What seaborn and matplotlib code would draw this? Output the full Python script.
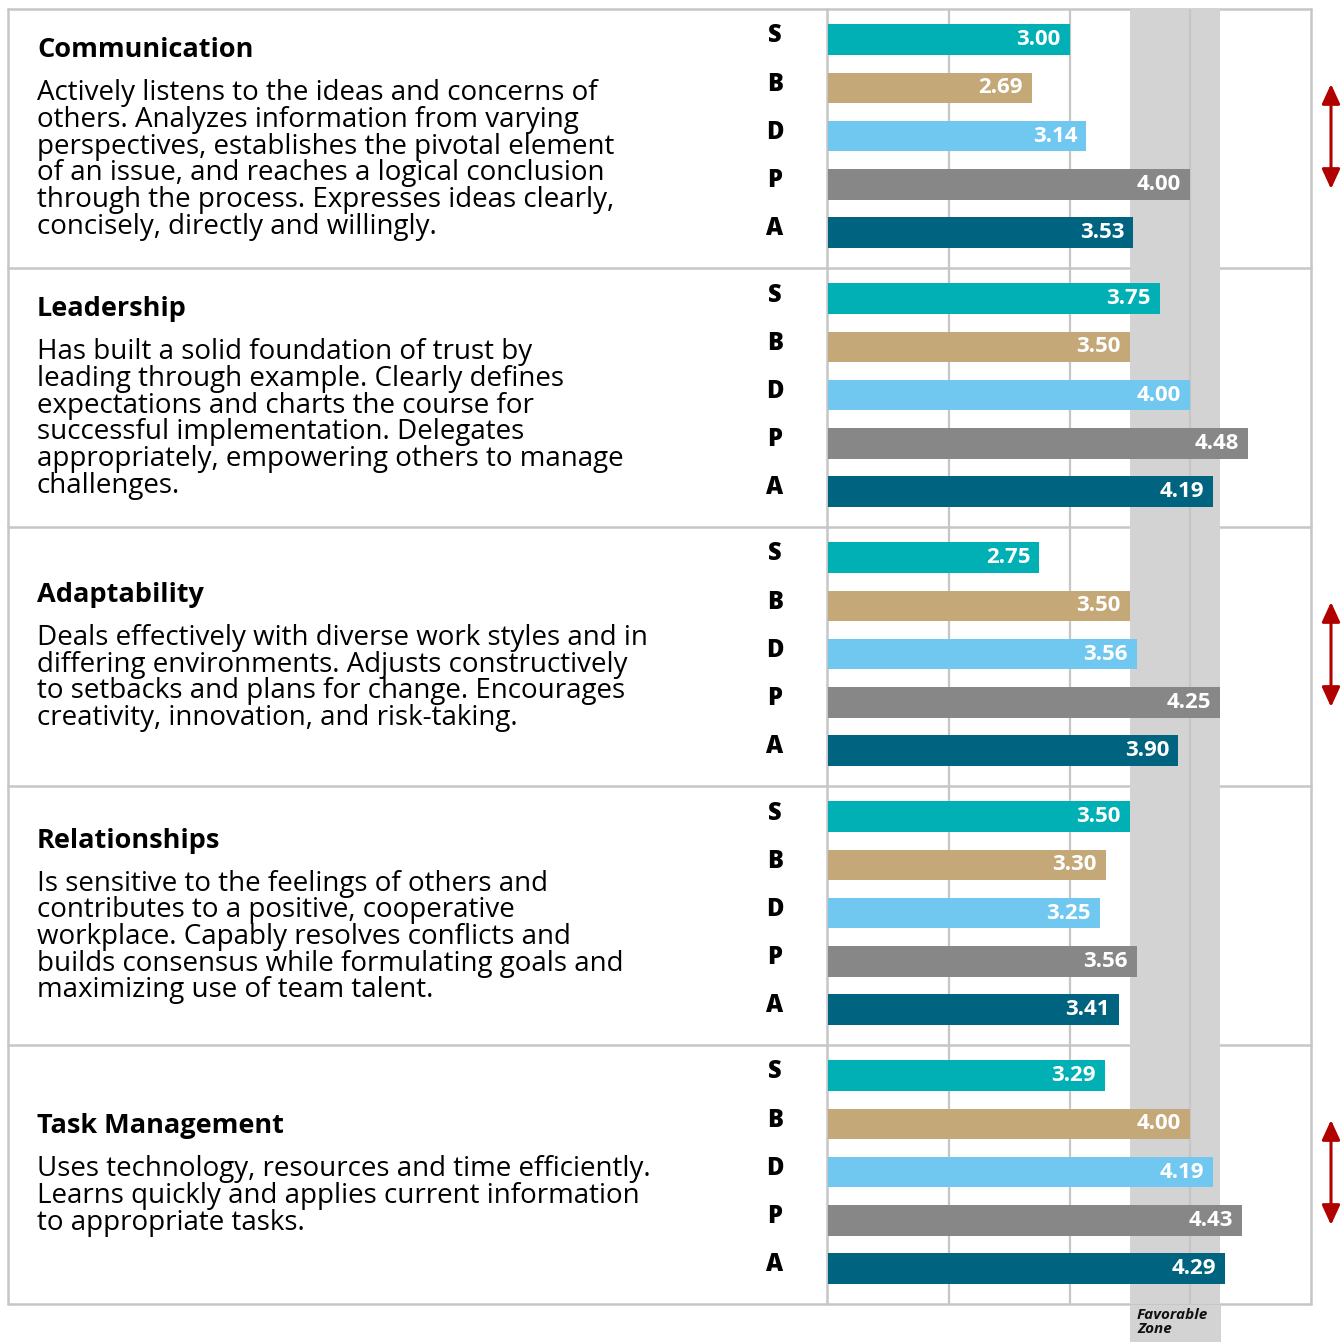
import numpy as np
import pandas as pd
import matplotlib
matplotlib.use('Agg')
import matplotlib.pyplot as plt
import seaborn as sns

## ============================================================= ##

competencies = ['Communication', 'Leadership', 'Adaptability', 'Relationships', 'Task Management']
descriptions = [
	['Actively listens to the ideas and concerns of',
	 'others. Analyzes information from varying',
	 'perspectives, establishes the pivotal element',
	 'of an issue, and reaches a logical conclusion',
	 'through the process. Expresses ideas clearly,',
	 'concisely, directly and willingly.'],
	['Has built a solid foundation of trust by',
	 'leading through example. Clearly defines',
	 'expectations and charts the course for',
	 'successful implementation. Delegates',
	 'appropriately, empowering others to manage',
	 'challenges.'],
	['Deals effectively with diverse work styles and in',
	 'differing environments. Adjusts constructively',
	 'to setbacks and plans for change. Encourages',
	 'creativity, innovation, and risk-taking.'],
	['Is sensitive to the feelings of others and',
	 'contributes to a positive, cooperative',
	 'workplace. Capably resolves conflicts and',
	 'builds consensus while formulating goals and',
	 'maximizing use of team talent.'],
	['Uses technology, resources and time efficiently.',
	 'Learns quickly and applies current information',
	 'to appropriate tasks.'],
]
styles = ['S', 'B', 'D', 'P', 'A']
scores_communication = [3.00, 2.69, 3.14, 4.00, 3.53]
scores_leadership = [3.75, 3.50, 4.00, 4.48, 4.19]
scores_adaptability = [2.75, 3.50, 3.56, 4.25, 3.90]
scores_relationships = [3.50, 3.30, 3.25, 3.56, 3.41]
scores_task = [3.29, 4.00, 4.19, 4.43, 4.29]
spread_flag = [True, False, True, False, True]
favorable_zone = (3.50, 4.25)

palette = {'S': '#00b0b4', 'B': '#c4a877', 'D': '#70c8f0', 'P': '#878787', 'A': '#00637f'}

## ============================================================= ##

W, H = 1343, 1342
LINE = '#c6c6c6'
FONT = 'Open Sans'

sns.set_style('white')
plt.rcParams['font.family'] = [FONT, 'DejaVu Sans']

fig = plt.figure(figsize=(W / 100., H / 100.), dpi=100)

# background axes in pixel coordinates (borders, text, arrows)
bg = fig.add_axes([0, 0, 1, 1], zorder=0)
bg.set_xlim(0, W)
bg.set_ylim(H, 0)
bg.axis('off')

x_left, x_axis, x_right = 8, 828, 1311
y_top, sec_h = 9, 259

scores = [scores_communication, scores_leadership, scores_adaptability,
		  scores_relationships, scores_task]

for k, name in enumerate(competencies):
	top = y_top + k * sec_h
	df = pd.DataFrame({'style': styles, 'score': scores[k]})

	ax = fig.add_axes([x_axis / W, 1 - (top + sec_h) / H, (x_right - x_axis) / W, sec_h / H], zorder=2)
	ax.patch.set_alpha(0)
	ax.axvspan(favorable_zone[0], favorable_zone[1], color='#d3d3d3', zorder=0, lw=0)
	sns.barplot(data=df, x='score', y='style', hue='style', palette=palette, orient='h',
				width=0.643, saturation=1, legend=False, ax=ax, zorder=3, linewidth=0, edgecolor='none')
	ax.set_xlim(1, 5)
	ax.set_ylim(4.747, -0.643)
	ax.set_xticks([2, 3, 4])
	ax.set_xticklabels([])
	ax.set_yticks([])
	ax.grid(axis='x', color=LINE, lw=1.6, zorder=1)
	ax.set_axisbelow(True)
	ax.set_xlabel('')
	ax.set_ylabel('')
	ax.tick_params(axis='both', length=0)
	for sp in ax.spines.values():
		sp.set_visible(False)
	for i, v in enumerate(scores[k]):
		ax.text(v - 0.075, i, '{0:.2f}'.format(v), ha='right', va='center', color='white',
				fontsize=16, fontweight='bold', zorder=4)

	# style letters, sitting a little above the bar centres
	for i, s in enumerate(styles):
		bg.text(775, top + 31 + i * 48.2 - 4, s, ha='center', va='center', fontsize=17,
				fontweight='heavy', color='black')

	# text block vertically centered in the section
	n = len(descriptions[k])
	block = 26 + 43 + (n - 1) * 26.7
	y_title = top + sec_h / 2. - block / 2. + 13
	bg.text(37, y_title, name, ha='left', va='center', fontsize=19.5, fontweight='bold', color='black')
	for j, line in enumerate(descriptions[k]):
		bg.text(37, y_title + 43 + j * 26.7, line, ha='left', va='center', fontsize=20, color='black')

	if spread_flag[k]:
		bg.annotate('', xy=(1331, top + 75), xytext=(1331, top + 180),
					arrowprops=dict(arrowstyle='<|-|>,head_length=1.2,head_width=0.55',
									color='#b00000', lw=2.2, shrinkA=0, shrinkB=0))

# frame and section separators
for k in range(6):
	y = y_top + k * sec_h
	bg.plot([x_left, x_right], [y, y], color=LINE, lw=1.8, zorder=1)
bg.plot([x_left, x_left], [y_top, y_top + 5 * sec_h], color=LINE, lw=1.8, zorder=1)
bg.plot([x_axis - 1, x_axis - 1], [y_top, y_top + 5 * sec_h], color=LINE, lw=1.8, zorder=1)
bg.plot([x_right, x_right], [y_top, y_top + 5 * sec_h], color=LINE, lw=1.8, zorder=1)

# favorable zone label below the chart
bg.fill_between([1130, 1221], y_top + 5 * sec_h + 2, H, color='#d3d3d3', lw=0, zorder=0)
bg.text(1137, 1308, 'Favorable\nZone', ha='left', va='top', fontsize=11, fontweight='bold',
		fontstyle='italic', color='#111111', linespacing=1.0)

fig.savefig('out.png', dpi=100)
